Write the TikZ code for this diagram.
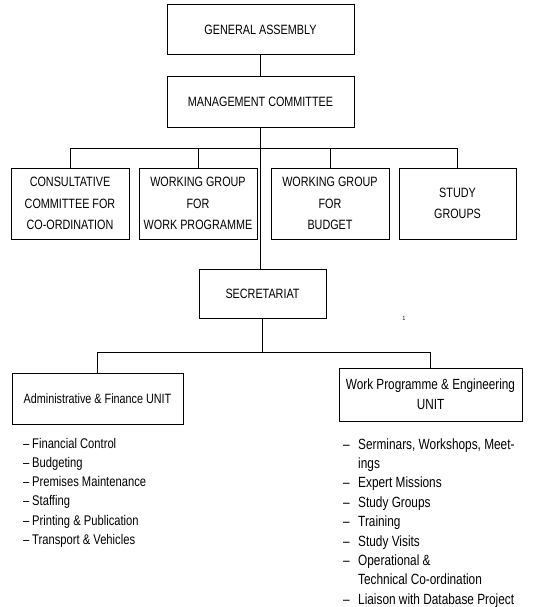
\documentclass[tikz,border=0pt]{standalone}
\usepackage{fontspec}
\setmainfont{Liberation Sans}[FakeStretch=0.8]
\tikzset{
  orgbox/.style={draw, line width=1pt, align=center, inner sep=0pt,
    font=\fontsize{13.5}{21.5}\selectfont},
  listitem/.style={anchor=base west, inner sep=0pt,
    font=\fontsize{14}{16}\selectfont},
  link/.style={line width=1pt}
}
\begin{document}
\begin{tikzpicture}[x=1pt, y=-1pt]
		\useasboundingbox (0,0) rectangle (547,607);
		\coordinate (bar) at (0,148);
		\coordinate (bar2) at (0,352);
		\node[orgbox, minimum width=187pt, minimum height=50pt] (ga) at (260.5,30) {GENERAL\ ASSEMBLY};
		\node[orgbox, minimum width=187pt, minimum height=50pt] (mc) at (260.5,102) {MANAGEMENT COMMITTEE};
		\node[orgbox, minimum width=118pt, minimum height=71pt] (ccc) at (70,203.5) {CONSULTATIVE\\COMMITTEE FOR\\CO-ORDINATION};
		\node[orgbox, minimum width=118pt, minimum height=71pt] (wgwp) at (198,203.5) {WORKING GROUP\\FOR\\WORK PROGRAMME};
		\node[orgbox, minimum width=118pt, minimum height=71pt] (wgb) at (330,203.5) {WORKING GROUP\\FOR\\BUDGET};
		\node[orgbox, minimum width=117pt, minimum height=71pt] (sg) at (457.5,203.5) {STUDY\\GROUPS};
		\node[orgbox, minimum width=127pt, minimum height=49pt] (sec) at (262.5,293.5) {SECRETARIAT};
		\node[orgbox, minimum width=171pt, minimum height=51pt] (afu) at (97.5,398.5) {Administrative \& Finance UNIT};
		\node[orgbox, minimum width=183pt, minimum height=53pt, font=\fontsize{14.7}{20}\selectfont] (wpe) at (430.5,394.5) {Work Programme \& Engineering\\UNIT};
		\node[inner sep=0pt, font=\fontsize{6}{7}\selectfont] (mark) at (404,318) {1};
		\draw[link] (ga.south) -- (mc.north);
		\draw[link] (mc.south) -- (mc.south |- sec.north);
		\draw[link] (ccc.north) -- (ccc.north |- bar) -| (sg.north);
		\draw[link] (wgwp.north) -- (wgwp.north |- bar);
		\draw[link] (wgb.north) -- (wgb.north |- bar);
		\draw[link] (sec.south) -- (sec.south |- bar2);
		\draw[link] (afu.north) -- (afu.north |- bar2) -| (wpe.north);
		\foreach \t [count=\i] in {Financial Control, Budgeting, Premises Maintenance, Staffing, Printing \& Publication, Transport \& Vehicles}
			\node[listitem] (af\i) at (23,{448+19.3*(\i-1)}) {\makebox[9pt][l]{–}\t};
		\foreach \d/\t [count=\i] in {–/{Serminars, Workshops, Meet-}, /ings, –/Expert Missions, –/Study Groups, –/Training, –/Study Visits, –/Operational \&, /Technical Co-ordination, –/Liaison with Database Project}
			\node[listitem, font=\fontsize{14.8}{16}\selectfont] (wp\i) at (343,{449+19.4*(\i-1)}) {\makebox[15pt][l]{\d}\t};
\end{tikzpicture}
\end{document}
